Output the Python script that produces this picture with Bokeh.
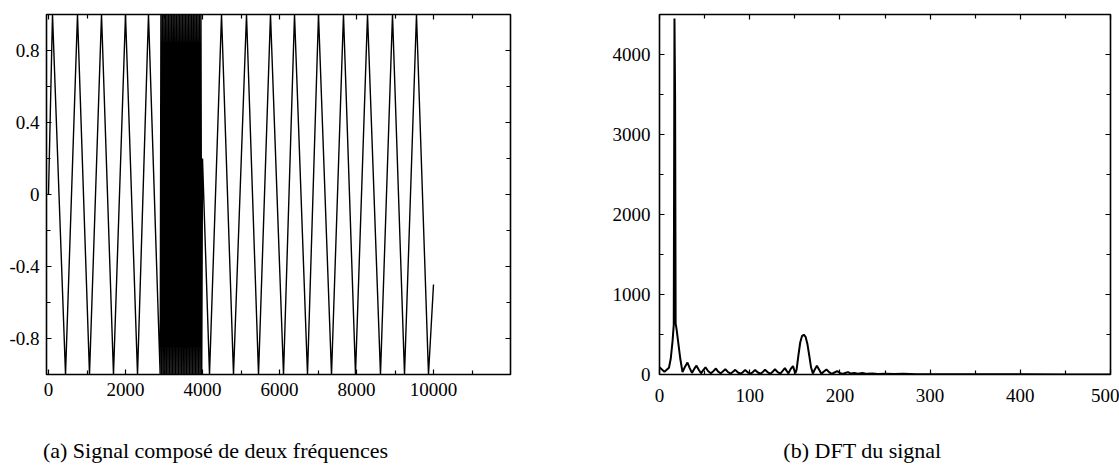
from bokeh.plotting import figure
from bokeh.layouts import row, column
from bokeh.models import Range1d, FixedTicker, LinearAxis
from bokeh.core.properties import value
from bokeh.embed import file_html
from bokeh.resources import INLINE

# ---- (a) signal: extremum points ----
sig_part1_x = [0, 104, 442, 753, 1065, 1377, 1688, 2000, 2312, 2597, 2900]
sig_part1_y = [0, 1, -1, 1, -1, 1, -1, 1, -1, 1, -1]
burst_x = [2920, 2940, 2960, 2980, 3000, 3020, 3040, 3060, 3080, 3100,
           3120, 3140, 3160, 3180, 3200, 3220, 3240, 3260, 3280, 3300,
           3320, 3340, 3360, 3380, 3400, 3420, 3440, 3460, 3480, 3500,
           3520, 3540, 3560, 3580, 3600, 3620, 3640, 3660, 3680, 3700,
           3720, 3740, 3760, 3780, 3800, 3820, 3840, 3860, 3880, 3900,
           3920, 3940, 3960, 3980]
burst_y = [1, -1, 1, -1, 1, -1, 1, -1, 1, -1,
           1, -1, 1, -1, 1, -1, 1, -1, 1, -1,
           1, -1, 1, -1, 1, -1, 1, -1, 1, -1,
           1, -1, 1, -1, 1, -1, 1, -1, 1, -1,
           1, -1, 1, -1, 1, -1, 1, -1, 1, -1,
           1, -1, 1, -1]
sig_part2_x = [4000, 4182, 4494, 4805, 5143, 5455, 5766, 6104, 6390, 6727, 7013,
               7351, 7662, 7974, 8286, 8623, 8935, 9247, 9558, 9870, 10000]
sig_part2_y = [0.2, -1, 1, -1, 1, -1, 1, -1, 1, -1, 1,
               -1, 1, -1, 1, -1, 1, -1, 1, -1, -0.5]

# ---- (b) DFT magnitude ----
dft_freq = [0, 3, 5.5, 10.5, 12.5, 14.5, 15.8, 16.6, 17.3, 17.9, 19, 21, 23, 25.5,
            28, 31, 33.5, 36, 38.5, 41, 43.5, 46, 48.5, 51, 54, 57, 60, 62.5, 65,
            68, 70.5, 73, 76, 79, 81.5, 84, 87, 90, 92.5, 95, 98, 101, 103.5, 106,
            109, 112, 114.5, 117, 120, 123, 125.5, 128, 131, 134, 136.5, 139, 141,
            143, 145.5, 148, 150.5, 152, 154, 156, 158, 160, 162, 164, 166, 168,
            170, 172, 174.5, 177, 179.5, 182, 185, 188, 191, 194, 197, 200, 203,
            206, 209, 212, 216, 220, 225, 230, 236, 242, 250, 260, 270, 285, 300,
            350, 400, 450, 500]
dft_mag = [90, 60, 35, 85, 200, 420, 620, 4450, 3450, 640, 560, 380, 200, 30,
           90, 150, 80, 20, 70, 110, 60, 15, 55, 90, 40, 15, 45, 75, 35,
           15, 40, 65, 30, 12, 35, 58, 25, 10, 30, 55, 25, 10, 30, 55,
           25, 10, 32, 58, 28, 10, 35, 65, 30, 12, 45, 80, 45,
           15, 70, 105, 15, 60, 240, 400, 480, 498, 470, 380, 240, 90,
           12, 60, 110, 60, 10, 35, 62, 30, 8, 25, 42, 20, 6,
           18, 30, 12, 20, 10, 18, 8, 14, 6, 10, 5, 8, 4, 3,
           2, 2, 1, 1]

sig_ticks_y = [-0.8, -0.4, 0, 0.4, 0.8]
sig_minor_y = [-0.6, -0.2, 0.2, 0.6]
sig_ticks_x = [0, 2000, 4000, 6000, 8000, 10000]
sig_minor_x = [1000, 3000, 5000, 7000, 9000, 11000]
dft_ticks_x = [0, 100, 200, 300, 400, 500]
dft_minor_x = [50, 150, 250, 350, 450]
dft_ticks_y = [0, 1000, 2000, 3000, 4000]
dft_minor_y = [500, 1500, 2500, 3500]

captions = ["(a) Signal composé de deux fréquences", "(b) DFT du signal"]

FONT = "Liberation Serif"


def style_axis(ax, ticks, minor, standoff, show_labels=True, overrides=None):
    ax.ticker = FixedTicker(ticks=ticks, minor_ticks=minor)
    ax.axis_line_color = None
    ax.major_tick_in = 5
    ax.major_tick_out = 0
    ax.minor_tick_in = 4
    ax.minor_tick_out = 0
    ax.major_tick_line_color = "black"
    ax.minor_tick_line_color = "black"
    ax.major_tick_line_width = 1.2
    ax.minor_tick_line_width = 1.2
    ax.major_label_text_font = FONT
    if show_labels:
        ax.major_label_standoff = standoff
        ax.major_label_text_color = "black"
        ax.major_label_text_font_size = "19px"
        if overrides:
            ax.major_label_overrides = overrides
    else:
        ax.major_label_standoff = 0
        ax.major_label_text_color = None
        ax.major_label_text_font_size = "1px"


def base_fig(width, height, x_range, y_range, left, right, top, bottom):
    p = figure(width=width, height=height, x_range=x_range, y_range=y_range,
               output_backend="svg", toolbar_location=None,
               min_border_left=left, min_border_right=right,
               min_border_top=top, min_border_bottom=bottom)
    p.grid.visible = False
    p.outline_line_color = "black"
    p.outline_line_width = 1.6
    p.outline_line_alpha = 1.0
    p.background_fill_color = "white"
    p.border_fill_color = "white"
    return p


# ---- left panel ----
p1 = base_fig(560, 430, Range1d(-52, 12000), Range1d(-1, 1), 46, 50, 12, 47)
sig_x = sig_part1_x + burst_x + sig_part2_x
sig_y = sig_part1_y + burst_y + sig_part2_y
p1.line(sig_x, sig_y, line_color="black", line_width=1.4)

style_axis(p1.xaxis[0], sig_ticks_x, sig_minor_x, 8)
style_axis(p1.yaxis[0], sig_ticks_y, sig_minor_y, 7,
           overrides={-0.8: "-0.8", -0.4: "-0.4", 0: "0", 0.4: "0.4", 0.8: "0.8"})
ax_r = LinearAxis()
style_axis(ax_r, sig_ticks_y, sig_minor_y, 0, show_labels=False)
p1.add_layout(ax_r, "right")
ax_t = LinearAxis()
style_axis(ax_t, sig_ticks_x, sig_minor_x, 0, show_labels=False)
p1.add_layout(ax_t, "above")

# ---- right panel ----
p2 = base_fig(559, 430, Range1d(0, 500), Range1d(0, 4500), 99, 9, 14, 56)
p2.line(dft_freq, dft_mag, line_color="black", line_width=2)

style_axis(p2.xaxis[0], dft_ticks_x, dft_minor_x, 14)
style_axis(p2.yaxis[0], dft_ticks_y, dft_minor_y, 9)
ax_r2 = LinearAxis()
style_axis(ax_r2, dft_ticks_y, dft_minor_y, 0, show_labels=False)
p2.add_layout(ax_r2, "right")
ax_t2 = LinearAxis()
style_axis(ax_t2, dft_ticks_x, dft_minor_x, 0, show_labels=False)
p2.add_layout(ax_t2, "above")

# ---- caption strip ----
p3 = figure(width=1119, height=43, x_range=Range1d(0, 1119), y_range=Range1d(0, 43),
            output_backend="svg", toolbar_location=None, min_border=0)
p3.axis.visible = False
p3.grid.visible = False
p3.outline_line_color = None
p3.border_fill_color = "white"
p3.background_fill_color = "white"
p3.text(x=[215, 862], y=[23, 23], text=captions,
        text_font=value(FONT), text_font_size="22px", text_color="black",
        text_align="center", text_baseline="middle")

layout = column(row(p1, p2), p3)
open("out.html", "w").write(file_html(layout, INLINE))
